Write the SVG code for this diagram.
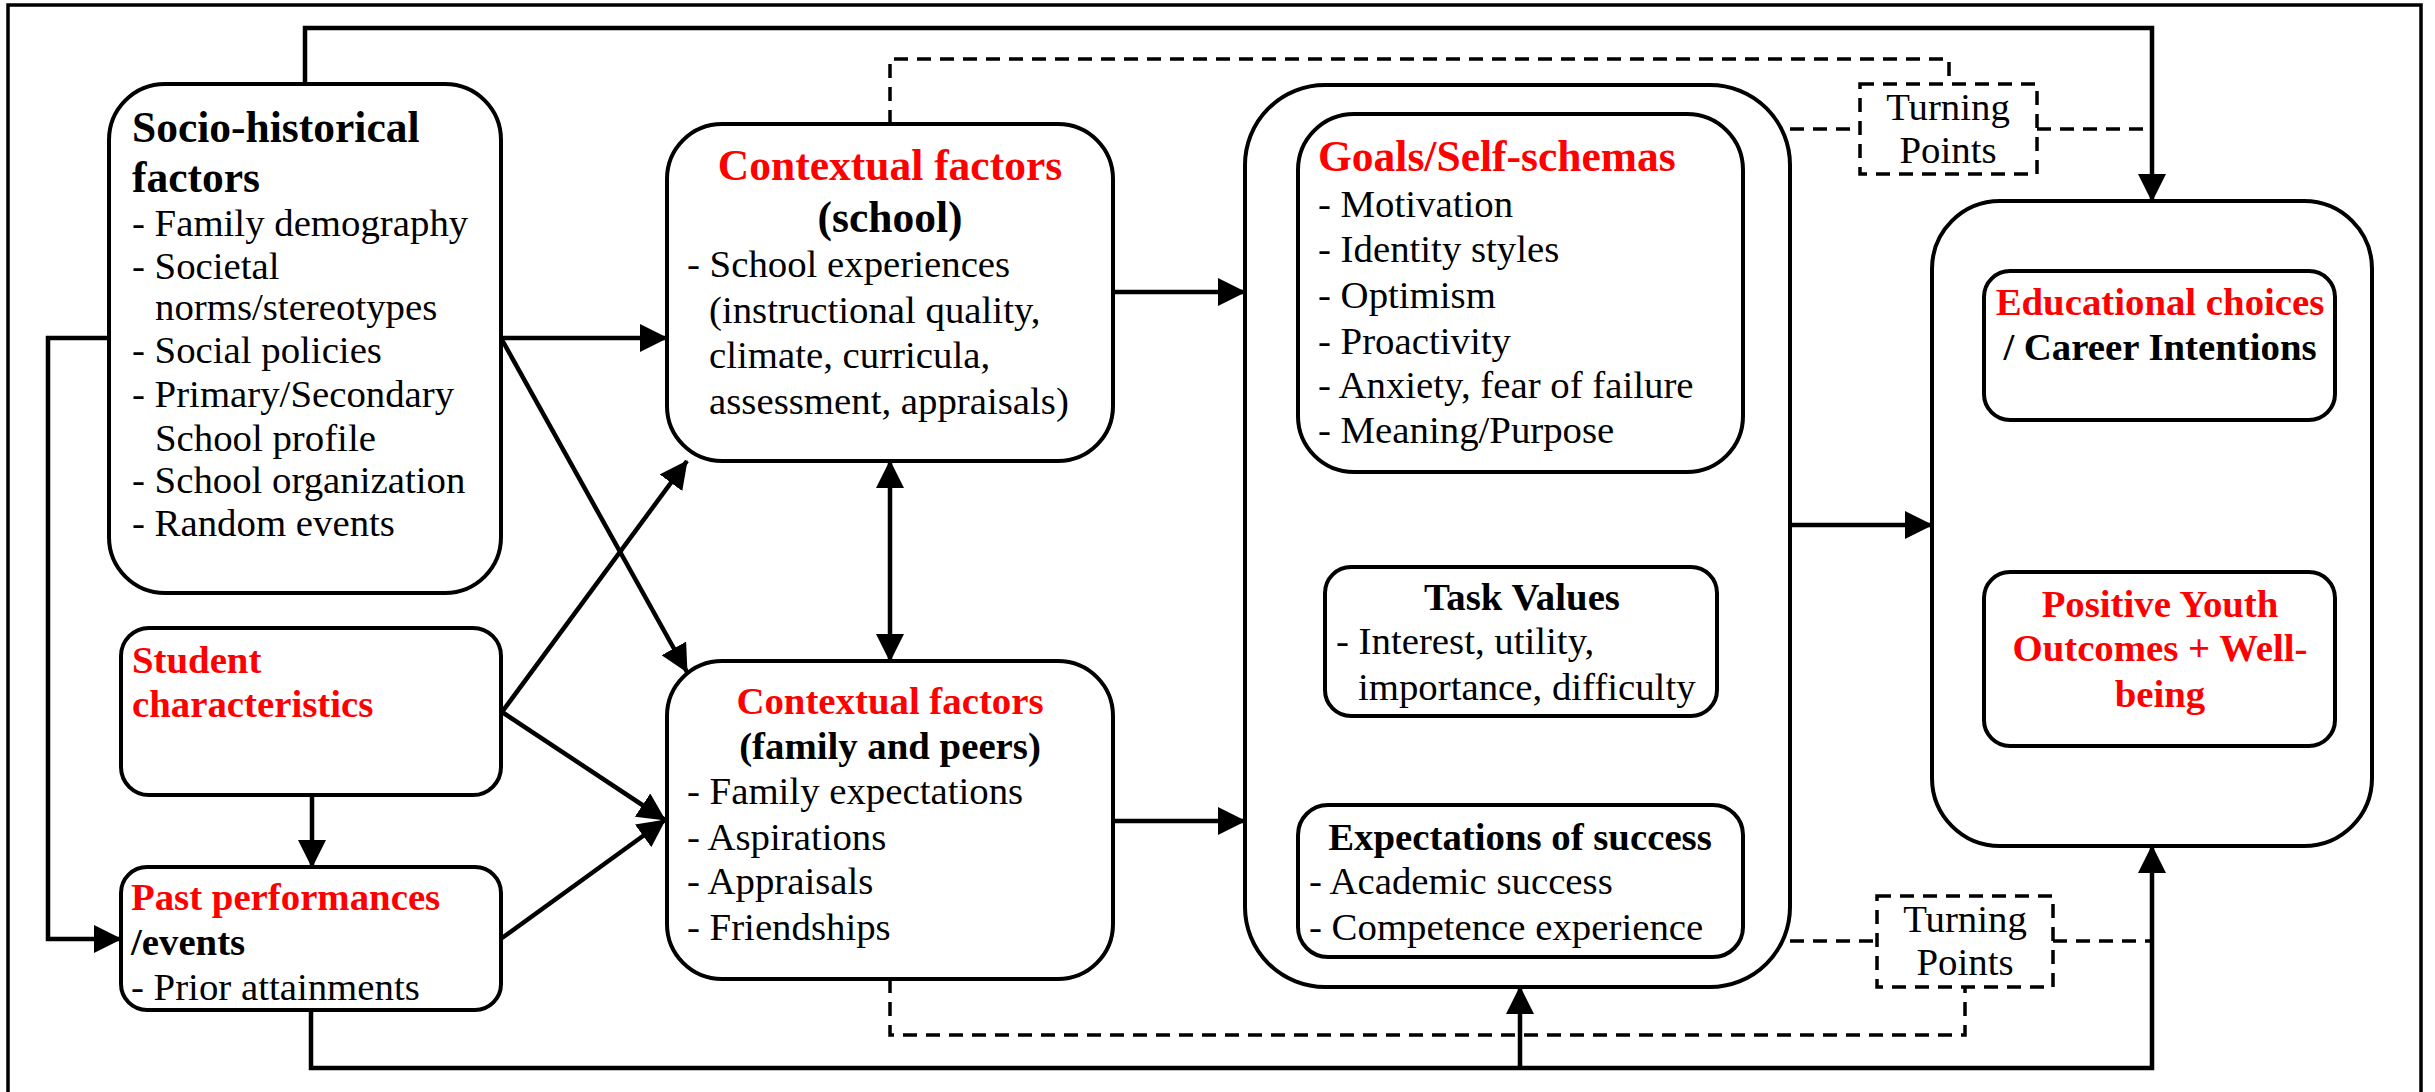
<svg xmlns="http://www.w3.org/2000/svg" width="2435" height="1092" viewBox="0 0 2435 1092">
<defs>
<marker id="ah" markerUnits="userSpaceOnUse" markerWidth="28" markerHeight="28" refX="27" refY="14" orient="auto-start-reverse">
<path d="M0,0 L28,14 L0,28 Z" fill="#000"/>
</marker>
<style>
.box{fill:#fff;stroke:#000;stroke-width:4}
.tp{fill:#fff;stroke:#000;stroke-width:3.5;stroke-dasharray:14 9}
.c{fill:none;stroke:#000;stroke-width:4.5}
.a{marker-end:url(#ah)}
.b{marker-start:url(#ah);marker-end:url(#ah)}
.d{fill:none;stroke:#000;stroke-width:3.5;stroke-dasharray:14 9}
text{font-family:"Liberation Serif","Times New Roman",serif;fill:#000}
.n{font-size:38.8px}
.h{font-size:38.8px;font-weight:bold}
.H{font-size:43.5px;font-weight:bold}
.r{fill:#ff0000}
.m{text-anchor:middle}
</style>
</defs>
<rect x="0" y="0" width="2435" height="1092" fill="#fff"/>
<rect x="8" y="5" width="2413" height="1110" fill="none" stroke="#000" stroke-width="3.5"/>

<g id="connectors">
<path class="c a" d="M305,84 V28 H2152 V201"/>
<path class="c a" d="M109,338 H48 V939 H121"/>
<path class="c a" d="M501,338 H667"/>
<path class="c a" d="M501,338 L687,672"/>
<path class="c a" d="M502,712 L687,461"/>
<path class="c a" d="M502,712 L665,820"/>
<path class="c a" d="M502,938 L665,820"/>
<path class="c a" d="M312,795 V867"/>
<path class="c a" d="M311,1010 V1068 H2152 V846"/>
<path class="c a" d="M1520,1068 V987"/>
<path class="c b" d="M890,461 V661"/>
<path class="c a" d="M1113,292 H1245"/>
<path class="c a" d="M1113,821 H1245"/>
<path class="c b" d="M1521,472 V567"/>
<path class="c b" d="M1521,716 V805"/>
<path class="c b" d="M1728,445 L1763,449 V802 L1728,806"/>
<path class="c a" d="M1790,525 H1932"/>
<path class="c b" d="M2159,420 V572"/>
<path class="d" d="M890,124 V59 H1949 V84"/>
<path class="d" d="M1790,129 H1860 M2037,129 H2152"/>
<path class="d" d="M890,979 V1035 H1965 V987"/>
<path class="d" d="M1790,941 H1877 M2053,941 H2152"/>
</g>

<g id="socio">
<rect class="box" x="109" y="84" width="392" height="509" rx="56" ry="56"/>
<text class="H" x="132" y="142">Socio-historical</text>
<text class="H" x="132" y="192">factors</text>
<text class="n" x="132" y="236">- Family demography</text>
<text class="n" x="132" y="279">- Societal</text>
<text class="n" x="155" y="320">norms/stereotypes</text>
<text class="n" x="132" y="363">- Social policies</text>
<text class="n" x="132" y="407">- Primary/Secondary</text>
<text class="n" x="155" y="451">School profile</text>
<text class="n" x="132" y="493">- School organization</text>
<text class="n" x="132" y="536">- Random events</text>
</g>

<g id="student">
<rect class="box" x="121" y="628" width="380" height="167" rx="28" ry="28"/>
<text class="h r" x="132" y="673">Student</text>
<text class="h r" x="132" y="717">characteristics</text>
</g>

<g id="past">
<rect class="box" x="121" y="867" width="380" height="143" rx="26" ry="26"/>
<text class="h r" x="131" y="910">Past performances</text>
<text class="h" x="131" y="955">/events</text>
<text class="n" x="131" y="1000">- Prior attainments</text>
</g>

<g id="school">
<rect class="box" x="667" y="124" width="446" height="337" rx="55" ry="55"/>
<text class="H r m" x="890" y="180">Contextual factors</text>
<text class="H m" x="890" y="232">(school)</text>
<text class="n" x="687" y="277">- School experiences</text>
<text class="n" x="709" y="323">(instructional quality,</text>
<text class="n" x="709" y="368">climate, curricula,</text>
<text class="n" x="709" y="414">assessment, appraisals)</text>
</g>

<g id="family">
<rect class="box" x="667" y="661" width="446" height="318" rx="55" ry="55"/>
<text class="h r m" x="890" y="714">Contextual factors</text>
<text class="h m" x="890" y="759">(family and peers)</text>
<text class="n" x="687" y="804">- Family expectations</text>
<text class="n" x="687" y="850">- Aspirations</text>
<text class="n" x="687" y="894">- Appraisals</text>
<text class="n" x="687" y="940">- Friendships</text>
</g>

<g id="self">
<rect class="box" x="1245" y="85" width="545" height="902" rx="80" ry="80"/>
</g>

<g id="goals">
<rect class="box" x="1298" y="114" width="445" height="358" rx="56" ry="56"/>
<text class="H r" x="1318" y="171">Goals/Self-schemas</text>
<text class="n" x="1318" y="217">- Motivation</text>
<text class="n" x="1318" y="262">- Identity styles</text>
<text class="n" x="1318" y="308">- Optimism</text>
<text class="n" x="1318" y="354">- Proactivity</text>
<text class="n" x="1318" y="398">- Anxiety, fear of failure</text>
<text class="n" x="1318" y="443">- Meaning/Purpose</text>
</g>

<g id="task">
<rect class="box" x="1325" y="567" width="392" height="149" rx="26" ry="26"/>
<text class="h m" x="1522" y="610">Task Values</text>
<text class="n" x="1336" y="654">- Interest, utility,</text>
<text class="n" x="1358" y="700">importance, difficulty</text>
</g>

<g id="expect">
<rect class="box" x="1298" y="805" width="445" height="152" rx="30" ry="30"/>
<text class="h m" x="1520" y="850">Expectations of success</text>
<text class="n" x="1309" y="894">- Academic success</text>
<text class="n" x="1309" y="940">- Competence experience</text>
</g>

<g id="tp1">
<rect class="tp" x="1860" y="84" width="177" height="90"/>
<text class="n m" x="1948" y="120">Turning</text>
<text class="n m" x="1948" y="163">Points</text>
</g>

<g id="tp2">
<rect class="tp" x="1877" y="896" width="176" height="91"/>
<text class="n m" x="1965" y="932">Turning</text>
<text class="n m" x="1965" y="975">Points</text>
</g>

<g id="outcomes">
<rect class="box" x="1932" y="201" width="440" height="645" rx="68" ry="68"/>
</g>

<g id="edu">
<rect class="box" x="1984" y="271" width="351" height="149" rx="26" ry="26"/>
<text class="h r m" x="2160" y="315">Educational choices</text>
<text class="h m" x="2160" y="360">/ Career Intentions</text>
</g>

<g id="positive">
<rect class="box" x="1984" y="572" width="351" height="174" rx="26" ry="26"/>
<text class="h r m" x="2160" y="617">Positive Youth</text>
<text class="h r m" x="2160" y="661">Outcomes + Well-</text>
<text class="h r m" x="2160" y="707">being</text>
</g>
</svg>
